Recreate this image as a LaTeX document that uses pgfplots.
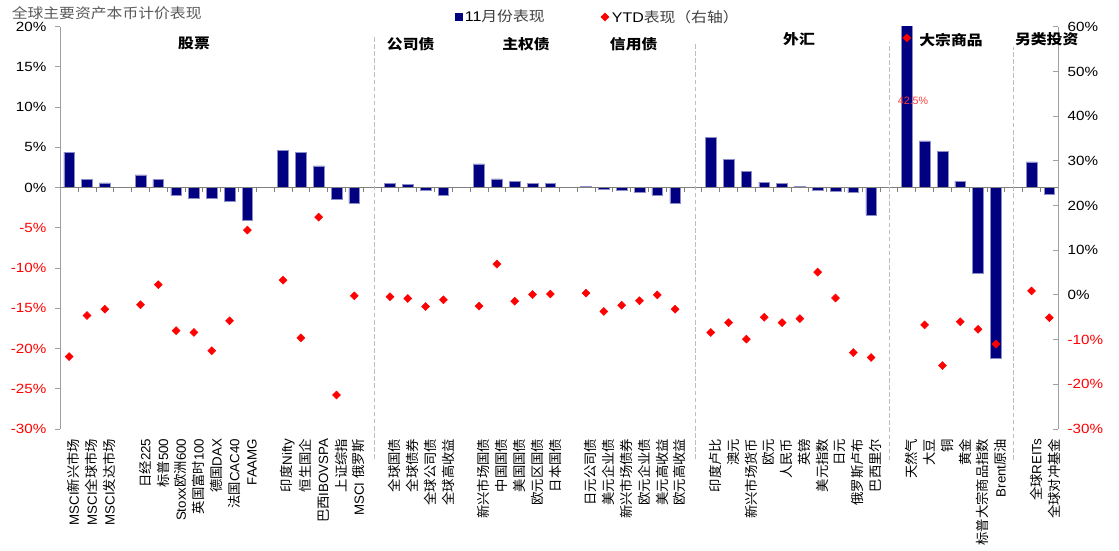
\documentclass[border=0pt]{standalone}
\usepackage{pgfplots}
\pgfplotsset{compat=1.18}
\usepackage{pgfplotstable}
\usepackage{fontspec}
\setmainfont{Liberation Sans}
\newfontfamily\cjk{Noto Sans CJK SC}
\newfontfamily\latw[FakeStretch=1.14]{Liberation Sans}
\newfontfamily\cjkw[FakeStretch=1.13]{Noto Sans CJK SC}
\newcommand\C[1]{{\cjk #1}}

\definecolor{navy}{RGB}{0,0,128}
\definecolor{axgray}{RGB}{160,160,160}
\definecolor{zerogray}{RGB}{128,128,128}
\definecolor{dashgray}{RGB}{190,190,190}
\definecolor{titlegray}{RGB}{89,89,89}
\definecolor{legtext}{RGB}{64,64,64}
\definecolor{lblred}{RGB}{255,60,60}

% x: category slot, m: November return (%), ytd: year-to-date return (%)
\pgfplotstableread{
x   m      ytd
0   4.4   -13.8
1   1.0    -4.6
2   0.6    -3.2
4   1.6    -2.2
5   1.0     2.3
6  -1.0    -8.0
7  -1.3    -8.4
8  -1.3   -12.5
9  -1.7    -5.8
10 -4.1    14.5
12  4.6     3.3
13  4.4    -9.6
14  2.7    17.4
15 -1.4   -22.4
16 -1.9    -0.2
18  0.5    -0.4
19  0.4    -0.8
20 -0.3    -2.6
21 -1.0    -1.1
23  2.95   -2.5
24  1.1     6.9
25  0.8    -1.4
26  0.55    0.1
27  0.5     0.2
29  0.2     0.4
30 -0.25   -3.7
31 -0.3    -2.3
32 -0.6    -1.3
33 -0.9     0.0
34 -1.95   -3.2
36  6.2    -8.4
37  3.5    -6.2
38  2.0    -9.9
39  0.7    -5.0
40  0.5    -6.2
41  0.17   -5.3
42 -0.37    5.1
43 -0.46   -0.7
44 -0.62  -12.9
45 -3.4   -14.0
47 42.5    57.5
48  5.8    -6.7
49  4.5   -15.8
50  0.8    -6.0
51 -10.6   -7.7
52 -21.2  -11.0
54  3.2     0.9
55 -0.87   -5.1
}\assetdata

\pgfplotsset{
  frame/.style={
    at={(45.2pt,90.75pt)}, anchor=south west,
    scale only axis, width=748.5pt, height=301.7pt,
    xmin=-0.5, xmax=55.5,
  },
}

\begin{document}
\begin{tikzpicture}
\path[use as bounding box] (0,0) rectangle (839.25pt,412.5pt);

% left axis: November bars
\begin{axis}[
  frame,
  clip mode=individual,
  ymin=-30, ymax=20,
  axis x line*=bottom, axis y line*=left,
  x axis line style={draw=none},
  y axis line style={axgray, line width=0.75pt},
  ytick={-30,-25,...,20},
  yticklabels={{\color{red}-30\%},{\color{red}-25\%},{\color{red}-20\%},{\color{red}-15\%},{\color{red}-10\%},{\color{red}-5\%},0\%,5\%,10\%,15\%,20\%},
  tick align=outside,
  major tick length=3.75pt,
  y tick style={axgray, line width=0.75pt},
  x tick style={draw=none},
  yticklabel style={font=\latw\fontsize{10}{12}\selectfont, xshift=-3.2pt},
  xtick={0,...,55},
  xticklabels={
    {MSCI\C{新兴市场}},{MSCI\C{全球市场}},{MSCI\C{发达市场}},{},
    {\C{日经}225},{\C{标普}500},{Stoxx\C{欧洲}600},{\C{英国富时}100},{\C{德国}DAX},{\C{法国}CAC40},{FAAMG},{},
    {\C{印度}Nifty},{\C{恒生国企}},{\C{巴西}IBOVSPA},{\C{上证综指}},{MSCI \C{俄罗斯}},{},
    {\C{全球国债}},{\C{全球债券}},{\C{全球公司债}},{\C{全球高收益}},{},
    {\C{新兴市场国债}},{\C{中国国债}},{\C{美国国债}},{\C{欧元区国债}},{\C{日本国债}},{},
    {\C{日元公司债}},{\C{美元企业债}},{\C{新兴市场债券}},{\C{欧元企业债}},{\C{美元高收益}},{\C{欧元高收益}},{},
    {\C{印度卢比}},{\C{澳元}},{\C{新兴市场货币}},{\C{欧元}},{\C{人民币}},{\C{英镑}},{\C{美元指数}},{\C{日元}},{\C{俄罗斯卢布}},{\C{巴西里尔}},{},
    {\C{天然气}},{\C{大豆}},{\C{铜}},{\C{黄金}},{\C{标普大宗商品指数}},{Brent\C{原油}},{},
    {\C{全球}REITs},{\C{全球对冲基金}}
  },
  xticklabel style={rotate=90, anchor=east, font=\fontsize{10}{12}\selectfont, yshift=-3.5pt},
  legend style={at={(0.5388,1.0241)}, anchor=center, draw=none, fill=none,
    legend columns=2, font=\cjkw\fontsize{10.5}{12}\selectfont, text=legtext,
    /tikz/every even column/.append style={column sep=40pt}},
]
\addplot[ybar, bar width=8pt, fill=navy, draw=navy!45!white, line width=0.4pt, forget plot]
  table[x=x, y=m]{\assetdata};

% zero line with slot boundary ticks
\draw[zerogray, line width=0.75pt] (axis cs:-0.5,0) -- (axis cs:55.5,0);
\pgfplotsinvokeforeach{0,...,54}{
  \draw[zerogray, line width=0.6pt] (axis cs:#1+0.5,0) -- ++(0pt,-3.2pt);
}

% group separators
\draw[dashgray, line width=0.75pt, dash pattern=on 3.5pt off 1.8pt] (axis cs:17.15,-33.7) -- (axis cs:17.15,19.0);
\draw[dashgray, line width=0.75pt, dash pattern=on 3.5pt off 1.8pt] (axis cs:35.15,-33.7) -- (axis cs:35.15,18.0);
\draw[dashgray, line width=0.75pt, dash pattern=on 3.5pt off 1.8pt] (axis cs:46.05,-33.9) -- (axis cs:46.05,18.1);
\draw[dashgray, line width=0.75pt, dash pattern=on 3.5pt off 1.8pt] (axis cs:53.0,-33.8) -- (axis cs:53.0,17.5);

% value of the clipped natural gas bar
\node[text=lblred, font=\fontsize{8}{9}\selectfont, inner sep=0pt] at (axis cs:47.35,10.83) {42.5\%};

\addlegendimage{legend image code/.code={\fill[navy] (0pt,-2.6pt) rectangle (5.25pt,2.6pt);}}
\addlegendentry{{\latw\color{black}11}月份表现}
\addlegendimage{legend image code/.code={\fill[red] (0pt,0pt) -- (3pt,3pt) -- (6pt,0pt) -- (3pt,-3pt) -- cycle;}}
\addlegendentry{{\latw\color{black}YTD}表现（右轴）}
\end{axis}

% right axis: year-to-date returns
\begin{axis}[
  frame,
  ymin=-30, ymax=60,
  axis x line=none, axis y line*=right,
  y axis line style={axgray, line width=0.75pt},
  ytick={-30,-20,...,60},
  yticklabels={{\color{red}-30\%},{\color{red}-20\%},{\color{red}-10\%},0\%,10\%,20\%,30\%,40\%,50\%,60\%},
  tick align=inside,
  major tick length=3.75pt,
  y tick style={axgray, line width=0.75pt},
  yticklabel style={font=\latw\fontsize{10}{12}\selectfont, xshift=3.5pt},
]
\addplot[only marks, mark=square*, mark size=2.1pt, color=red, mark options={rotate=45}]
  table[x=x, y=ytd]{\assetdata};
\end{axis}

% title and group headings, placed in pixel units from the top left
\begin{scope}[shift={(0pt,412.5pt)}, x=0.75pt, y=-0.75pt]
\node[anchor=west, inner sep=0pt, text=titlegray, font=\cjkw\fontsize{10.5}{12}\selectfont] at (11.5,13.3) {全球主要资产本币计价表现};
\begin{scope}[every node/.style={inner sep=0pt, font=\cjkw\bfseries\fontsize{10.5}{12}\selectfont}]
\node at (194,43.5) {股票};
\node at (410.7,44) {公司债};
\node at (526,44) {主权债};
\node at (633.7,44) {信用债};
\node at (799,39.5) {外汇};
\node at (951,40) {大宗商品};
\node at (1046.7,39.5) {另类投资};
\end{scope}
\end{scope}
\end{tikzpicture}
\end{document}
